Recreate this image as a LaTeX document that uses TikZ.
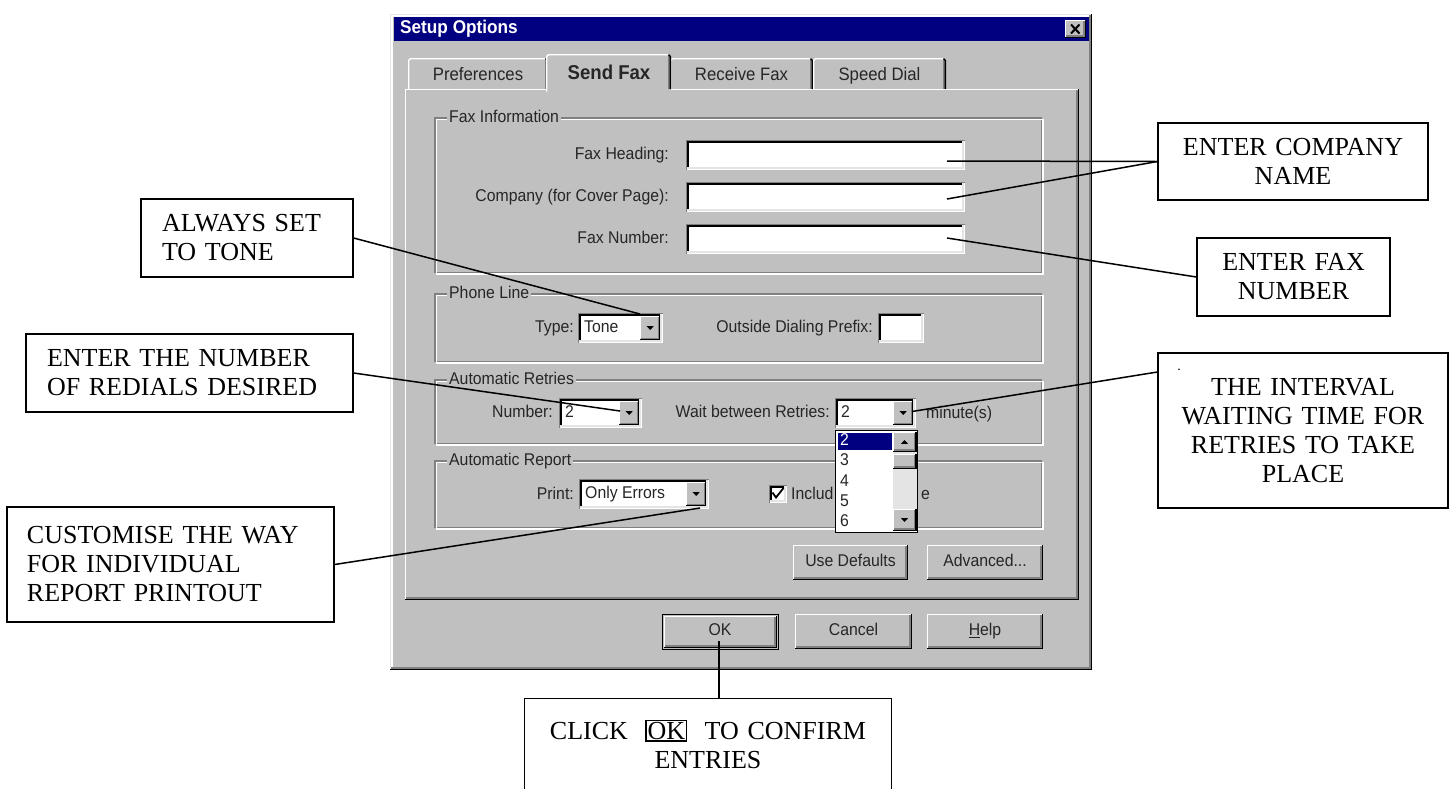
\documentclass[tikz,border=0pt]{standalone}
\usepackage{fontspec}
\setmainfont{Liberation Serif}
\newfontfamily\ui[FakeStretch=0.93]{Liberation Sans}
\definecolor{winbg}{HTML}{C0C0C0}
\definecolor{windark}{HTML}{808080}
\definecolor{winnavy}{HTML}{000080}
\definecolor{winlight}{HTML}{E4E4E4}
\setlength\fboxsep{1pt}
\setlength\fboxrule{1.3pt}

\newcommand\winraised[4]{%
 \fill[winbg] ({#1},{#2}) rectangle ({#3},{#4});
 \draw[white,line width=1.3pt] ({#1+0.65},{#4-1.3}) -- ({#1+0.65},{#2+0.65}) -- ({#3-1.3},{#2+0.65});
 \draw[windark,line width=1.3pt] ({#1+1.3},{#4-1.95}) -- ({#3-1.95},{#4-1.95}) -- ({#3-1.95},{#2+1.3});
 \draw[black,line width=1.3pt] ({#1},{#4-0.65}) -- ({#3-0.65},{#4-0.65}) -- ({#3-0.65},{#2});
}
\newcommand\winsunken[4]{%
 \fill[white] ({#1},{#2}) rectangle ({#3},{#4});
 \draw[windark,line width=1.3pt] ({#1+0.65},{#4}) -- ({#1+0.65},{#2+0.65}) -- ({#3},{#2+0.65});
 \draw[black,line width=1.3pt] ({#1+1.95},{#4-1.3}) -- ({#1+1.95},{#2+1.95}) -- ({#3-1.3},{#2+1.95});
 \draw[winlight,line width=1.3pt] ({#1+1.3},{#4-1.95}) -- ({#3-1.95},{#4-1.95}) -- ({#3-1.95},{#2+1.3});
}
\newcommand\winetch[4]{%
 \draw[windark,line width=1.3pt] ({#1},{#2}) rectangle ({#3-1.3},{#4-1.3});
 \draw[white,line width=1.3pt] ({#1+1.3},{#2+1.3}) rectangle ({#3},{#4});
}
\newcommand\wintridown[2]{\fill[black] ({#1-3.5},{#2-1.8}) -- ({#1+3.5},{#2-1.8}) -- ({#1},{#2+2}) -- cycle;}
\newcommand\wintriup[2]{\fill[black] ({#1-3.5},{#2+1.8}) -- ({#1+3.5},{#2+1.8}) -- ({#1},{#2-2}) -- cycle;}
\newcommand\wincombo[6]{%
 \winsunken{#1}{#2}{#3}{#4}
 \winraised{#3-23}{#2+2.6}{#3-2.6}{#4-2.6}
 \wintridown{#3-12.8}{(#2+#4)/2}
 \node[uitext,anchor=west] (#6) at ({#1+6},{(#2+#4)/2}) {#5};
}
\newcommand\wintab[5]{%
 \fill[winbg] ({#1},{#3}) rectangle ({#2},89);
 \draw[white,line width=1.3pt] ({#1+0.65},89) -- ({#1+0.65},{#3+2.5}) -- ({#1+2.5},{#3+0.65}) -- ({#2-2.5},{#3+0.65});
 \draw[windark,line width=1.3pt] ({#2-1.95},{#3+2}) -- ({#2-1.95},89);
 \draw[black,line width=1.3pt] ({#2-2.5},{#3+0.65}) -- ({#2-0.65},{#3+2.5}) -- ({#2-0.65},89);
 \node[tabtext] (#5) at ({(#1+#2)/2},76) {#4};
}

\tikzset{
 uitext/.style={font=\ui\fontsize{17}{19}\selectfont, text=black!85, inner sep=0pt, text height=12pt, text depth=3.5pt},
 tabtext/.style={uitext, font=\ui\fontsize{18}{20}\selectfont},
 grouplabel/.style={uitext, fill=winbg, inner xsep=2pt, anchor=west},
 callout/.style={draw=black, line width=1.3pt, fill=white, font=\fontsize{26}{29}\selectfont, inner ysep=0pt, inner xsep=0pt},
 lead/.style={draw=black, line width=1.5pt},
}

\begin{document}
\begin{tikzpicture}[x=1pt,y=-1pt]
\useasboundingbox (0,0) rectangle (1452,788);
\fill[white] (0,0) rectangle (1452,788);

% ---------- dialog window ----------
\fill[winbg] (390,14) rectangle (1092,670);
\draw[winlight,line width=1.3pt] (390.65,670) -- (390.65,14.65) -- (1092,14.65);
\draw[white,line width=1.3pt] (391.95,668.7) -- (391.95,15.95) -- (1090.7,15.95);
\draw[windark,line width=1.3pt] (391.3,668.05) -- (1090.05,668.05) -- (1090.05,15.3);
\draw[black,line width=1.3pt] (390,669.35) -- (1091.35,669.35) -- (1091.35,14);

% title bar
\fill[winnavy] (393.5,16.8) rectangle (1088.5,41);
\node[uitext, font=\ui\bfseries\fontsize{18.5}{20}\selectfont, text=white, anchor=west] (title) at (400,29.5) {Setup Options};
\winraised{1065}{20}{1086}{38}
\draw[black,line width=2pt] (1071,24.5) -- (1079.5,33.5) (1079.5,24.5) -- (1071,33.5);

% tab panel
\draw[white,line width=1.3pt] (405.65,599) -- (405.65,89.65) -- (1078,89.65);
\draw[windark,line width=1.3pt] (406.3,598.05) -- (1077.05,598.05) -- (1077.05,90.3);
\draw[black,line width=1.3pt] (405,599.35) -- (1078.35,599.35) -- (1078.35,89);

% tabs
\wintab{408}{548}{58}{Preferences}{tabpref}
\wintab{670}{813}{58}{Receive Fax}{tabrecv}
\wintab{813}{946}{58}{Speed Dial}{tabspeed}
% selected tab
\fill[winbg] (546,54) rectangle (671,91.5);
\draw[white,line width=1.3pt] (546.65,91.5) -- (546.65,56.5) -- (548.5,54.65) -- (668.5,54.65);
\draw[windark,line width=1.3pt] (669.05,56) -- (669.05,89);
\draw[black,line width=1.3pt] (668.5,54.65) -- (670.35,56.5) -- (670.35,89);
\node[tabtext, font=\ui\bfseries\fontsize{20}{22}\selectfont] (tabsend) at (609,75) {Send Fax};

% ---------- group boxes ----------
\winetch{435}{118}{1043}{274}
\winetch{435}{294}{1043}{363}
\winetch{435}{380}{1043}{445}
\winetch{435}{461}{1043}{529}
\node[grouplabel] (gfax) at (447,118) {Fax Information};
\node[grouplabel] (gphone) at (447,294) {Phone Line};
\node[grouplabel] (gretry) at (447,380) {Automatic Retries};
\node[grouplabel] (greport) at (447,461) {Automatic Report};

% fax information
\node[uitext,anchor=east] (lhead) at (669,155) {Fax Heading:};
\node[uitext,anchor=east] (lcomp) at (669,197) {Company (for Cover Page):};
\node[uitext,anchor=east] (lfaxno) at (669,239) {Fax Number:};
\winsunken{686}{140}{965}{170}
\winsunken{686}{182}{965}{212}
\winsunken{686}{224}{965}{254}

% phone line
\node[uitext,anchor=east] (ltype) at (574,328) {Type:};
\wincombo{578}{313}{663}{343}{Tone}{ctone}
\node[uitext,anchor=east] (lprefix) at (873,328) {Outside Dialing Prefix:};
\winsunken{878}{313}{924}{343}

% automatic retries
\node[uitext,anchor=east] (lnum) at (553,413) {Number:};
\wincombo{559}{398}{642}{428}{2}{cnum}
\node[uitext,anchor=east] (lwait) at (830,413) {Wait between Retries:};
\wincombo{835}{398}{916}{428}{2}{cwait}
\node[uitext,anchor=west] (lmin) at (926,414) {minute(s)};

% automatic report
\node[uitext,anchor=east] (lprint) at (574,495) {Print:};
\wincombo{579}{479}{709}{509}{Only Errors}{cprint}
\winsunken{769}{485}{787}{503}
\draw[black,line width=1.8pt] (772.5,492.5) -- (776,497.5) -- (783.5,488);
\node[uitext,anchor=west] (linc) at (791,495) {Includ};
\node[uitext,anchor=west] (linc2) at (921,495) {e};

% drop-down list
\fill[white] (835,430) rectangle (918,533);
\draw[black,line width=1.3pt] (835.65,430.65) rectangle (917.35,532.35);
\fill[winnavy] (837.5,432.5) rectangle (892,450);
\node[uitext,anchor=west,text=white] (li2) at (840,441) {2};
\node[uitext,anchor=west] (li3) at (840,461.5) {3};
\node[uitext,anchor=west] (li4) at (840,482) {4};
\node[uitext,anchor=west] (li5) at (840,502) {5};
\node[uitext,anchor=west] (li6) at (840,522) {6};
\fill[winlight] (893,432) rectangle (916.7,531);
\winraised{893}{432}{916.7}{452}
\wintriup{904.5}{442}
\winraised{893}{454}{916.7}{469}
\winraised{893}{509}{916.7}{531}
\wintridown{904.5}{520}

% buttons
\winraised{793}{545}{908}{580}
\node[uitext] (bdef) at (850.5,562.5) {Use Defaults};
\winraised{927}{545}{1043}{580}
\node[uitext] (badv) at (985,562.5) {Advanced...};
\draw[black,line width=1.3pt] (662.65,614.65) rectangle (778.35,649.35);
\winraised{664}{616}{777}{648}
\node[uitext] (bok) at (720,631) {OK};
\winraised{795}{614}{912}{649}
\node[uitext] (bcancel) at (853.5,631.5) {Cancel};
\winraised{927}{614}{1043}{649}
\node[uitext] (bhelp) at (985,631.5) {\underline{H}elp};

% ---------- callouts ----------
\node[callout, minimum width=212pt, minimum height=78pt, text width=170pt, align=left] (always) at (247,238) {ALWAYS SET\\TO TONE};
\node[callout, minimum width=327pt, minimum height=78pt, text width=285pt, align=left] (number) at (189.5,373) {ENTER THE NUMBER\\OF REDIALS DESIRED};
\node[callout, minimum width=327pt, minimum height=115pt, text width=287pt, align=left] (custom) at (170.5,564.5) {CUSTOMISE THE WAY\\FOR INDIVIDUAL\\REPORT PRINTOUT};
\node[callout, minimum width=270pt, minimum height=77pt, text width=250pt, align=center] (company) at (1293,161.5) {ENTER COMPANY\\NAME};
\node[callout, minimum width=193pt, minimum height=78pt, text width=180pt, align=center] (faxnum) at (1293.5,277) {ENTER FAX\\NUMBER};
\node[callout, minimum width=290pt, minimum height=155pt, text width=280pt, align=center] (interval) at (1303,430.5) {THE INTERVAL\\WAITING TIME FOR\\RETRIES TO TAKE\\PLACE};
\node[inner sep=0pt, font=\fontsize{14}{14}\selectfont] (dot) at (1179,370) {.};
\node[callout, draw=none, minimum width=366pt, minimum height=90pt, text width=350pt, align=center] (click) at (708,744) {CLICK~~\fbox{OK}~~TO CONFIRM\\ENTRIES};
\draw[line width=1.3pt] (click.south west) -- (click.north west) -- (click.north east) -- (click.south east);

% ---------- leader lines ----------
\coordinate (hd) at (947,161);
\coordinate (co) at (947,199);
\coordinate (fn) at (947,238);
\coordinate (tone) at (640,314);
\coordinate (num) at (620,411);
\coordinate (wait) at (912,411.5);
\coordinate (prt) at (700,508);
\coordinate (okpt) at (719,641);
\draw[lead] (hd) -- (company.west);
\draw[lead] (co) -- (company.west);
\draw[lead] (fn) -- (faxnum.west);
\draw[lead] (always.east) -- (tone);
\draw[lead] (number.east) -- (num);
\draw[lead] (custom.east) -- (prt);
\draw[lead] (wait) -- ([yshift=58.5pt]interval.west);
\draw[lead] (okpt) -- (okpt |- click.north);
\end{tikzpicture}
\end{document}
